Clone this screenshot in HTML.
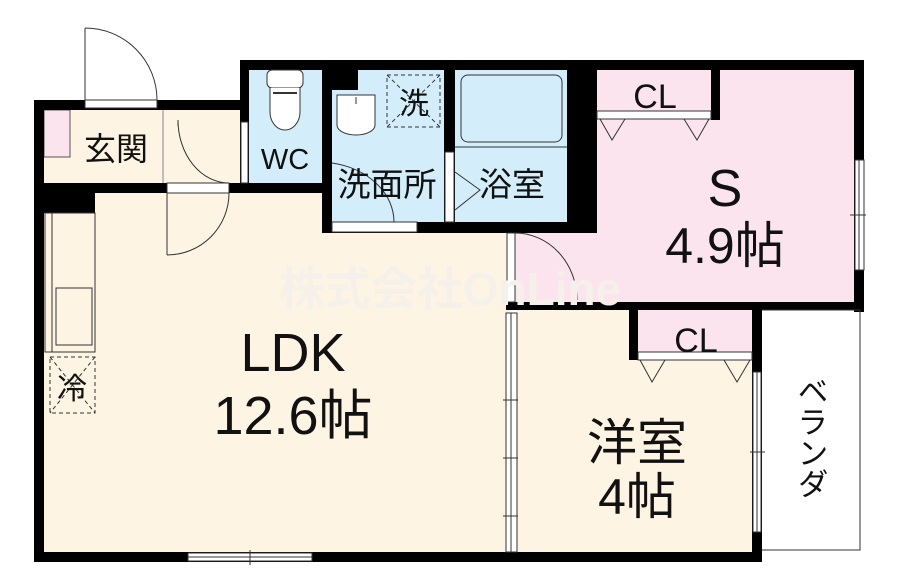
<!DOCTYPE html>
<html><head><meta charset="utf-8"><style>
html,body{margin:0;padding:0;background:#fff;width:907px;height:583px;overflow:hidden}
svg{display:block}
text{font-family:"Liberation Sans","Noto Sans CJK JP",sans-serif;fill:#111}
</style></head><body>
<svg width="907" height="583" viewBox="0 0 907 583" xmlns="http://www.w3.org/2000/svg">
<rect x="44" y="110" width="196" height="73" fill="#fdf4e3"/>
<rect x="44" y="110" width="26" height="47" fill="#fbe4ee" stroke="#555" stroke-width="1"/>
<line x1="163" y1="110" x2="163" y2="183" stroke="#888" stroke-width="1"/>
<rect x="44" y="193" width="466" height="359" fill="#fdf4e3"/>
<rect x="249" y="70" width="73" height="113" fill="#d3eefa"/>
<rect x="332" y="70" width="112" height="153" fill="#d3eefa"/>
<rect x="455" y="70" width="112" height="153" fill="#d3eefa"/>
<rect x="597" y="70" width="257" height="232" fill="#fbe4ee"/>
<rect x="515" y="233" width="90" height="69" fill="#fbe4ee"/>
<rect x="517" y="310" width="235" height="242" fill="#fdf4e3"/>
<rect x="638" y="310" width="114" height="42" fill="#fbe4ee"/>
<g fill="#000">
<rect x="34" y="100" width="206" height="10"/>
<rect x="34" y="100" width="10" height="462"/>
<rect x="34" y="183" width="298" height="10"/>
<rect x="34" y="183" width="61" height="30"/>
<rect x="240" y="60" width="624" height="10"/>
<rect x="240" y="60" width="9" height="123"/>
<rect x="322" y="60" width="10" height="173"/>
<rect x="332" y="70" width="26" height="20"/>
<rect x="444" y="70" width="11" height="163"/>
<rect x="567" y="60" width="30" height="173"/>
<rect x="322" y="222" width="275" height="11"/>
<rect x="711" y="70" width="9" height="50"/>
<rect x="854" y="60" width="10" height="252"/>
<rect x="506" y="302" width="358" height="8"/>
<rect x="629" y="310" width="9" height="50"/>
<rect x="752" y="310" width="10" height="252"/>
<rect x="34" y="552" width="728" height="10"/>
</g>
<g fill="#fff" stroke="#333" stroke-width="1">
<rect x="85" y="100" width="72" height="8"/>
<rect x="167" y="183" width="62" height="10"/>
<rect x="241" y="122" width="7" height="61"/>
<rect x="332" y="222" width="85" height="10"/>
<rect x="445" y="152" width="9" height="70"/>
<rect x="597" y="111" width="114" height="8"/>
<rect x="638" y="352" width="114" height="8"/>
<rect x="855" y="160" width="9" height="110"/>
<rect x="753" y="372" width="8" height="160"/>
<rect x="188" y="553" width="124" height="8"/>
<rect x="506" y="313" width="11" height="239"/>
<rect x="507" y="233" width="8" height="69"/>
</g>
<g stroke="#333" stroke-width="1" fill="none">
<line x1="511" y1="313" x2="511" y2="552"/>
<line x1="859" y1="160" x2="859" y2="270"/><line x1="850" y1="215" x2="866" y2="215"/>
<line x1="757" y1="372" x2="757" y2="532"/><line x1="750" y1="452" x2="765" y2="452"/>
<line x1="188" y1="557" x2="312" y2="557"/><line x1="250" y1="550" x2="250" y2="565"/>
<line x1="503" y1="400" x2="518" y2="400"/><line x1="503" y1="458" x2="518" y2="458"/><line x1="503" y1="516" x2="518" y2="516"/>
<line x1="85" y1="28" x2="85" y2="100"/><path d="M85,28 A72 72 0 0 1 157,100"/>
<path d="M178,120 A51 63 0 0 0 229,183"/><line x1="178" y1="120" x2="178" y2="126"/>
<line x1="167" y1="193" x2="167" y2="255"/><path d="M167,255 A62 62 0 0 0 229,193"/>
<path d="M332,163 A75 60 0 0 1 394,222"/>
<path d="M455,172 L480,190 L455,210"/>
<line x1="515" y1="233" x2="515" y2="300"/><path d="M515,233 A62 67 0 0 1 577,300"/>
<path d="M600,119 L612,140 L625,119"/><path d="M684,119 L697,140 L709,119"/>
<path d="M640,360 L652,382 L665,360"/><path d="M724,360 L737,382 L750,360"/>
<path d="M762,310 H860 V550 H762"/>
<rect x="267" y="70" width="36" height="18" rx="5" fill="#fff"/>
<path d="M270,88 V112 A15 18 0 0 0 300,112 V88" fill="#fff"/>
<line x1="273" y1="93" x2="297" y2="93" stroke-width="2"/>
<path d="M337,95 H375 V125 A19 10 0 0 1 337,125 Z" fill="#fff"/>
<line x1="356" y1="97" x2="356" y2="104"/>
<rect x="387" y="75" width="53" height="52" stroke-dasharray="4,3"/>
<line x1="387" y1="75" x2="440" y2="127" stroke-dasharray="4,3"/><line x1="440" y1="75" x2="387" y2="127" stroke-dasharray="4,3"/>
<rect x="461" y="75" width="101" height="67" rx="7"/>
<line x1="455" y1="147" x2="567" y2="147"/>
<rect x="45" y="213" width="50" height="139"/>
<line x1="52" y1="213" x2="52" y2="352"/>
<rect x="56" y="288" width="36" height="57"/>
<rect x="50" y="357" width="45" height="56" stroke-dasharray="4,3"/>
<line x1="50" y1="357" x2="95" y2="413" stroke-dasharray="4,3"/><line x1="95" y1="357" x2="50" y2="413" stroke-dasharray="4,3"/>
</g>
<text x="450" y="305" font-size="46" font-weight="bold" text-anchor="middle" style="fill:#f6f0ea">株式会社OnLine</text>
<g text-anchor="middle">
<text x="116" y="160" font-size="32">玄関</text>
<text x="285" y="169" font-size="29">WC</text>
<text x="414" y="114" font-size="30">洗</text>
<text x="387" y="196" font-size="33">洗面所</text>
<text x="512" y="196" font-size="33">浴室</text>
<text x="72" y="399" font-size="30">冷</text>
<text x="655" y="108" font-size="34">CL</text>
<text x="696" y="352" font-size="34">CL</text>
<text x="725" y="206" font-size="52">S</text>
<text x="725" y="263" font-size="50">4.9帖</text>
<text x="293" y="371" font-size="54">LDK</text>
<text x="293" y="434" font-size="54">12.6帖</text>
<text x="637" y="460" font-size="50">洋室</text>
<text x="637" y="514" font-size="50">4帖</text>
<text x="810" y="437" font-size="31" style="writing-mode:vertical-rl">ベランダ</text>
</g>
</svg>
</body></html>
